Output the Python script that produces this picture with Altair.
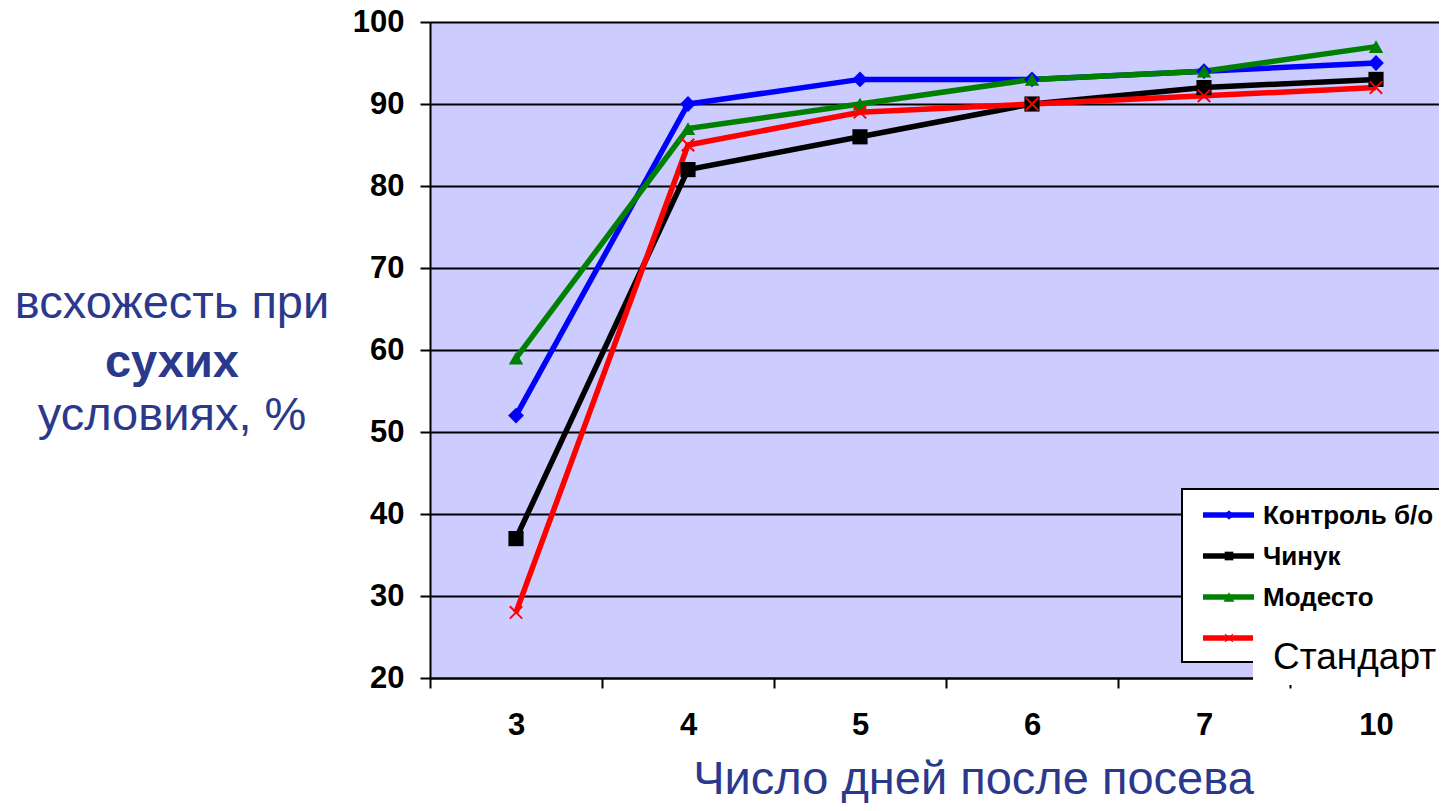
import json
import altair as alt
import pandas as pd

days = ["3", "4", "5", "6", "7", "10"]
series = ["Контроль б/о", "Чинук", "Модесто", "Стандарт"]
control = [52, 90, 93, 93, 94, 95]
chinook = [37, 82, 86, 90, 92, 93]
modesto = [59, 87, 90, 93, 94, 97]
standard = [28, 85, 89, 90, 91, 92]
values = [control, chinook, modesto, standard]

colors = ["#0000FF", "#000000", "#008000", "#FF0000"]
xpath = ("M-1,-0.8L-0.8,-1L0,-0.2L0.8,-1L1,-0.8L0.2,0L1,0.8L0.8,1L0,0.2"
         "L-0.8,1L-1,0.8L-0.2,0Z")
shapes = ["diamond", "square", "triangle-up", xpath]
sizes = [250, 190, 310, 170]
legend_sizes = [95, 75, 120, 75]

y_title_lines = ["всхожесть при", "сухих", "условиях, %"]
x_title = "Число дней после посева"

FONT = "Liberation Sans"
NAVY = "#2B398C"

rows = []
for s, vals in zip(series, values):
    for i, (d, v) in enumerate(zip(days, vals)):
        rows.append({"series": s, "day": d, "idx": i, "value": v})
df = pd.DataFrame(rows)

W, H = 1009, 656
step = 172.0
x_max = -0.5 + W / step

tick_vals = []
for i in range(len(days)):
    tick_vals.append(i - 0.5)
    tick_vals.append(float(i))

label_expr = ("datum.value % 1 === 0 ? " + json.dumps(days) +
              "[datum.value] : ''")

x_enc = alt.X(
    "idx:Q",
    scale=alt.Scale(domain=[-0.5, x_max], nice=False, zero=False),
    axis=alt.Axis(
        values=tick_vals,
        labelExpr=label_expr,
        grid=False,
        domainColor="black",
        domainWidth=2,
        tickColor="black",
        tickWidth=2,
        tickSize=10,
        tickOpacity={"condition": {"test": "datum.value % 1 !== 0", "value": 1}, "value": 0},
        labelFont=FONT,
        labelFontSize=31,
        labelFontWeight="bold",
        labelColor="black",
        labelPadding=22,
        labelFlush=False,
        labelOverlap=False,
        title=x_title,
        titleFont=FONT,
        titleFontSize=47,
        titleFontWeight="normal",
        titleColor=NAVY,
        titleX=543,
        titleY=115,
        titleAlign="center",
        titleBaseline="alphabetic",
    ),
)

y_enc = alt.Y(
    "value:Q",
    scale=alt.Scale(domain=[20, 100], nice=False, zero=False),
    axis=alt.Axis(
        values=list(range(20, 101, 10)),
        grid=True,
        gridColor="black",
        gridWidth=2,
        gridOpacity=1,
        domainColor="black",
        domainWidth=2,
        tickColor="black",
        tickWidth=2,
        tickSize=10,
        labelFont=FONT,
        labelFontSize=31,
        labelFontWeight="bold",
        labelColor="black",
        labelPadding=16,
        title=None,
    ),
)

color_enc = alt.Color("series:N", scale=alt.Scale(domain=series, range=colors), legend=None)

lines = alt.Chart(df).mark_line(strokeWidth=5.5).encode(
    x=x_enc, y=y_enc, color=color_enc, detail="series:N"
)
points = alt.Chart(df).mark_point(filled=True, opacity=1).encode(
    x="idx:Q",
    y="value:Q",
    color=color_enc,
    shape=alt.Shape("series:N", scale=alt.Scale(domain=series, range=shapes), legend=None),
    size=alt.Size("series:N", scale=alt.Scale(domain=series, range=sizes), legend=None),
)

layers = [lines, points]

# y-axis title (three lines, middle one bold)
y_title_pos = [296, 355, 408]
for i, (txt, ypos) in enumerate(zip(y_title_lines, y_title_pos)):
    layers.append(
        alt.Chart(pd.DataFrame({"t": [txt]})).mark_text(
            font=FONT, fontSize=47, fontWeight="bold" if i == 1 else "normal",
            color=NAVY, align="center", baseline="alphabetic",
        ).encode(x=alt.value(-258), y=alt.value(ypos), text="t:N")
    )

# legend box
layers.append(
    alt.Chart(pd.DataFrame({"a": [0]})).mark_rect(
        fill="white", stroke="black", strokeWidth=2
    ).encode(x=alt.value(752), x2=alt.value(1030), y=alt.value(467), y2=alt.value(640))
)
leg_y = [493, 534, 575, 616]
for i, s in enumerate(series):
    one = pd.DataFrame({"name": [s]})
    layers.append(
        alt.Chart(one).mark_rule(color=colors[i], strokeWidth=5.5).encode(
            x=alt.value(773), x2=alt.value(824), y=alt.value(leg_y[i])
        )
    )
    layers.append(
        alt.Chart(one).mark_point(
            filled=True, opacity=1, color=colors[i], shape=shapes[i], size=legend_sizes[i]
        ).encode(x=alt.value(799), y=alt.value(leg_y[i]))
    )
    if i < 3:
        layers.append(
            alt.Chart(one).mark_text(
                font=FONT, fontSize=26, fontWeight="bold", color="black",
                align="left", baseline="middle",
            ).encode(x=alt.value(833), y=alt.value(leg_y[i] + 1), text="name:N")
        )

# white patch with the last legend label
layers.append(
    alt.Chart(pd.DataFrame({"a": [0]})).mark_rect(fill="white", strokeWidth=0).encode(
        x=alt.value(823), x2=alt.value(1030), y=alt.value(598), y2=alt.value(663)
    )
)
layers.append(
    alt.Chart(pd.DataFrame({"name": [series[3]]})).mark_text(
        font=FONT, fontSize=37, color="black", align="left", baseline="alphabetic"
    ).encode(x=alt.value(843), y=alt.value(647), text="name:N")
)

chart = alt.layer(*layers).properties(
    width=W,
    height=H,
    padding={"left": 422, "top": 14, "right": 0, "bottom": 125},
    autosize=alt.AutoSizeParams(type="none"),
    background="white",
).configure_view(fill="#CCCCFF", stroke=None)

chart.save("out.html", embed_options={"renderer": "svg", "actions": False})
